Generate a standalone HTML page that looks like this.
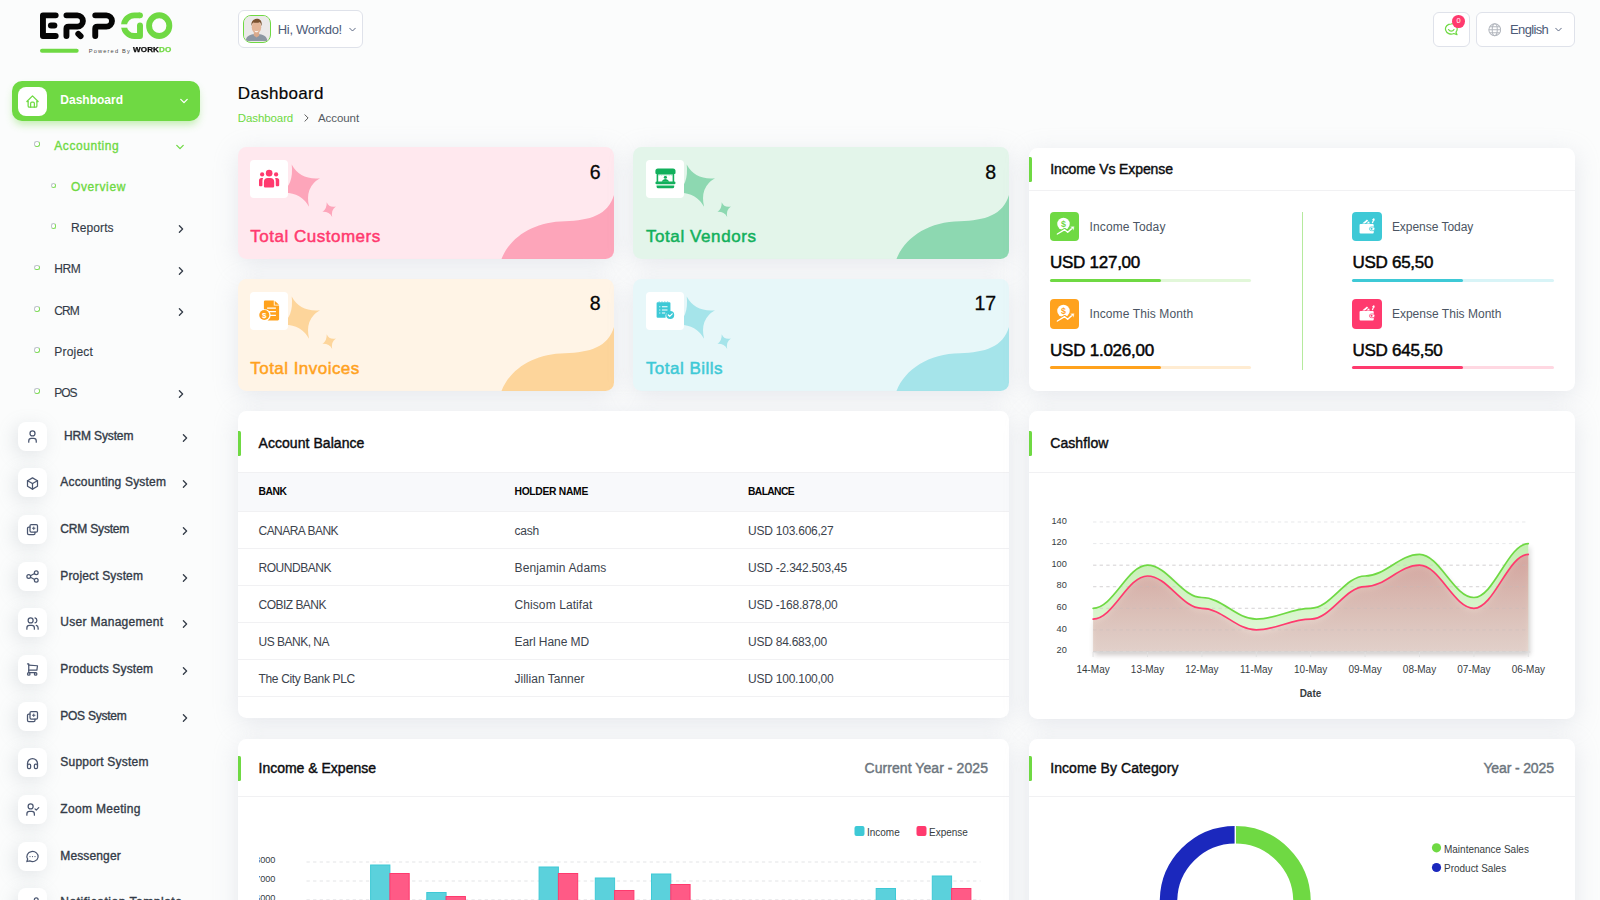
<!DOCTYPE html>
<html lang="en">
<head>
<meta charset="utf-8">
<title>Dashboard</title>
<style>
*{box-sizing:border-box;margin:0;padding:0}
html,body{width:1600px;height:900px;overflow:hidden}
body{font-family:"Liberation Sans",sans-serif;color:#293240;background:#fbfcfc;position:relative;font-size:12px}
.abs{position:absolute}
.t{position:absolute;white-space:nowrap}
svg{display:block}
.nav-main{position:absolute;left:12px;top:81px;width:188px;height:40px;background:#6fd943;border-radius:10px;box-shadow:0 5px 8px -2px rgba(111,217,67,.45)}
.ibox{position:absolute;left:18px;width:29px;height:29px;background:#fff;border-radius:8px;box-shadow:-3px 4px 18px rgba(136,147,160,.22)}
.ibox svg{position:absolute;left:7px;top:7.4px;width:15px;height:15px;stroke:#4a5670;fill:none;stroke-width:2;stroke-linecap:round;stroke-linejoin:round}
.chev{position:absolute;fill:none;stroke:#333b47;stroke-width:1.6;stroke-linecap:round;stroke-linejoin:round}
.dot{position:absolute;width:5.4px;height:5.4px;border-radius:50%;border:1.1px solid #bfc4cc;border-right-color:#7fdc58;border-bottom-color:#7fdc58;background:#fff;margin:.3px}
.hbtn{position:absolute;background:#fff;border:1.2px solid #dfe2ea;border-radius:6px}
.card{position:absolute;background:#fff;border-radius:8.5px;box-shadow:0 5px 25px rgba(182,186,203,.3)}
.card .bar{position:absolute;left:0;width:3px;height:24.5px;background:#6fd943;border-radius:0 1.5px 1.5px 0}
.card .hr{position:absolute;left:0;right:0;height:1px;background:#f1f1f3}
.stat{position:absolute;width:376px;height:111.8px;border-radius:8.5px;overflow:hidden;box-shadow:0 5px 25px rgba(182,186,203,.3)}
.stat .ic{position:absolute;left:12.5px;top:12.5px;width:38px;height:38px;background:#fff;border-radius:4px;z-index:2}
.stat svg.deco{position:absolute;left:0;top:0;width:376px;height:112px}
</style>
</head>
<body>
<!-- sidebar -->
<svg class="abs" style="left:0;top:0" width="220" height="60" viewBox="0 0 220 60" fill="none" stroke-linecap="round" stroke-linejoin="round">
<g stroke="#050505" stroke-width="5.900">
<path d="M55.700 15.330H42.950V36H55.700"/><path d="M51 25.470H54.300" stroke-width="6.100"/>
<path d="M66.450 15.360H77.230A5.650 5.650 0 0 1 77.230 26.670H68.600Q66.450 26.670 66.450 28.800V35.950"/><path d="M78.300 33.800L80.600 36.100"/>
<path d="M95.250 15.360H106.300A5.650 5.650 0 0 1 106.300 26.670H97.400Q95.250 26.670 95.250 28.800V35.950"/>
</g>
<g stroke="#6fd943" stroke-width="5.900" stroke-linecap="butt">
<path d="M140 15.360H134.350A10.350 10.350 0 0 0 124 25.650"/>
<path d="M124 25.650A10.350 10.350 0 0 0 134.350 36H140V25.350"/>
<ellipse cx="159.200" cy="25.650" rx="10.130" ry="10.350"/>
<path d="M42 50.800H76.670" stroke-width="4" stroke-linecap="round"/>
</g>
<rect x="120" y="24.300" width="9" height="3.400" fill="#fbfcfc"/><circle cx="140" cy="15.360" r="2.950" fill="#6fd943"/><circle cx="140" cy="25.350" r="2.950" fill="#6fd943"/>
</svg>
<div class="t" style="left:88.8px;top:46.9px;font-size:5.7px;line-height:8px;color:#4a4a4a;letter-spacing:1.14px;">Powered By</div>
<div class="t" style="left:133.300px;top:45.600px;font-size:7.100px;font-weight:700;letter-spacing:.1px;color:#0a0a0a;line-height:9px;transform:scaleX(1.14);transform-origin:left;-webkit-text-stroke:.25px">WORK<span style="color:#6fd943">DO</span></div>
<div class="nav-main"><div class="ibox" style="left:6px;top:5.500px;box-shadow:none"><svg viewBox="0 0 24 24" style="stroke:#6fd943"><path d="M5 12H3l9-9 9 9h-2"/><path d="M5 12v7a2 2 0 0 0 2 2h10a2 2 0 0 0 2-2v-7"/><path d="M9 21v-6a2 2 0 0 1 2-2h2a2 2 0 0 1 2 2v6"/></svg></div><div class="t" style="left:48.3px;top:12px;font-size:12px;line-height:14px;color:#fff;font-weight:700;letter-spacing:0.00px;">Dashboard</div><svg class="chev" style="left:168px;top:16.5px;width:8px;height:6.0px;stroke:#fff;stroke-width:1.6" viewBox="0 0 10 6"><path d="M1 1l4 4 4-4"/></svg></div>
<div class="dot" style="left:34px;top:141px"></div>
<div class="t" style="left:54.3px;top:139px;font-size:12px;line-height:14px;color:#6fd943;-webkit-text-stroke:0.35px #6fd943;letter-spacing:0.56px;">Accounting</div>
<svg class="chev" style="left:175.5px;top:143.5px;width:8px;height:6.0px;stroke:#6fd943;stroke-width:1.6" viewBox="0 0 10 6"><path d="M1 1l4 4 4-4"/></svg>
<div class="dot" style="left:50.5px;top:182.5px"></div>
<div class="t" style="left:71px;top:179.7px;font-size:12px;line-height:14px;color:#6fd943;-webkit-text-stroke:0.35px #6fd943;letter-spacing:0.62px;">Overview</div>
<div class="dot" style="left:50.5px;top:223px"></div>
<div class="t" style="left:71px;top:220.7px;font-size:12px;line-height:14px;color:#333b47;-webkit-text-stroke:0.13px #333b47;letter-spacing:0.10px;">Reports</div>
<svg class="chev" style="left:178px;top:225px;width:6px;height:8px;stroke:#333b47" viewBox="0 0 6 10"><path d="M1 1l4 4-4 4"/></svg>
<div class="dot" style="left:34px;top:264.5px"></div>
<div class="t" style="left:54.3px;top:262.3px;font-size:12px;line-height:14px;color:#333b47;-webkit-text-stroke:0.13px #333b47;letter-spacing:-0.44px;">HRM</div>
<svg class="chev" style="left:178px;top:266.5px;width:6px;height:8px;stroke:#333b47" viewBox="0 0 6 10"><path d="M1 1l4 4-4 4"/></svg>
<div class="dot" style="left:34px;top:306px"></div>
<div class="t" style="left:54.3px;top:304px;font-size:12px;line-height:14px;color:#333b47;-webkit-text-stroke:0.13px #333b47;letter-spacing:-0.88px;">CRM</div>
<svg class="chev" style="left:178px;top:308px;width:6px;height:8px;stroke:#333b47" viewBox="0 0 6 10"><path d="M1 1l4 4-4 4"/></svg>
<div class="dot" style="left:34px;top:347px"></div>
<div class="t" style="left:54.3px;top:344.7px;font-size:12px;line-height:14px;color:#333b47;-webkit-text-stroke:0.13px #333b47;letter-spacing:0.19px;">Project</div>
<div class="dot" style="left:34px;top:388px"></div>
<div class="t" style="left:54.3px;top:385.7px;font-size:12px;line-height:14px;color:#333b47;-webkit-text-stroke:0.13px #333b47;letter-spacing:-1.11px;">POS</div>
<svg class="chev" style="left:178px;top:390px;width:6px;height:8px;stroke:#333b47" viewBox="0 0 6 10"><path d="M1 1l4 4-4 4"/></svg>
<div class="ibox" style="top:421.7px"><svg viewBox="0 0 24 24"><circle cx="12" cy="7" r="4"/><path d="M6 21v-2a4 4 0 0 1 4-4h4a4 4 0 0 1 4 4v2"/></svg></div>
<div class="t" style="left:63.9px;top:428.6px;font-size:12px;line-height:14px;color:#333b47;-webkit-text-stroke:0.35px #333b47;letter-spacing:-0.13px;">HRM System</div>
<svg class="chev" style="left:182px;top:433.7px;width:6px;height:8px;stroke:#333b47" viewBox="0 0 6 10"><path d="M1 1l4 4-4 4"/></svg>
<div class="ibox" style="top:468.4px"><svg viewBox="0 0 24 24"><path d="M12 3l8 4.500v9L12 21l-8-4.500v-9L12 3"/><path d="M12 12l8-4.500"/><path d="M12 12v9"/><path d="M12 12L4 7.500"/></svg></div>
<div class="t" style="left:60.3px;top:475.3px;font-size:12px;line-height:14px;color:#333b47;-webkit-text-stroke:0.35px #333b47;letter-spacing:0.18px;">Accounting System</div>
<svg class="chev" style="left:182px;top:480.4px;width:6px;height:8px;stroke:#333b47" viewBox="0 0 6 10"><path d="M1 1l4 4-4 4"/></svg>
<div class="ibox" style="top:515.0px"><svg viewBox="0 0 24 24"><rect x="8" y="4" width="12" height="12" rx="2"/><path d="M16 16v2a2 2 0 0 1-2 2H6a2 2 0 0 1-2-2v-8a2 2 0 0 1 2-2h2"/><path d="M14 8v4M12 10h4" stroke-width="1.600"/></svg></div>
<div class="t" style="left:60.3px;top:521.9px;font-size:12px;line-height:14px;color:#333b47;-webkit-text-stroke:0.35px #333b47;letter-spacing:-0.18px;">CRM System</div>
<svg class="chev" style="left:182px;top:527.0px;width:6px;height:8px;stroke:#333b47" viewBox="0 0 6 10"><path d="M1 1l4 4-4 4"/></svg>
<div class="ibox" style="top:561.7px"><svg viewBox="0 0 24 24"><circle cx="6" cy="12" r="3"/><circle cx="18" cy="6" r="3"/><circle cx="18" cy="18" r="3"/><path d="M8.700 10.700l6.600-3.400"/><path d="M8.700 13.300l6.600 3.400"/></svg></div>
<div class="t" style="left:60.3px;top:568.6px;font-size:12px;line-height:14px;color:#333b47;-webkit-text-stroke:0.35px #333b47;letter-spacing:0.15px;">Project System</div>
<svg class="chev" style="left:182px;top:573.7px;width:6px;height:8px;stroke:#333b47" viewBox="0 0 6 10"><path d="M1 1l4 4-4 4"/></svg>
<div class="ibox" style="top:608.4px"><svg viewBox="0 0 24 24"><circle cx="9" cy="7" r="4"/><path d="M3 21v-2a4 4 0 0 1 4-4h4a4 4 0 0 1 4 4v2"/><path d="M16 3.130a4 4 0 0 1 0 7.750"/><path d="M21 21v-2a4 4 0 0 0-3-3.850"/></svg></div>
<div class="t" style="left:60.3px;top:615.3px;font-size:12px;line-height:14px;color:#333b47;-webkit-text-stroke:0.35px #333b47;letter-spacing:0.29px;">User Management</div>
<svg class="chev" style="left:182px;top:620.4px;width:6px;height:8px;stroke:#333b47" viewBox="0 0 6 10"><path d="M1 1l4 4-4 4"/></svg>
<div class="ibox" style="top:655.0px"><svg viewBox="0 0 24 24"><circle cx="6" cy="19" r="2"/><circle cx="17" cy="19" r="2"/><path d="M17 17H6V3H4"/><path d="M6 5l14 1-1 7H6"/></svg></div>
<div class="t" style="left:60.3px;top:661.9px;font-size:12px;line-height:14px;color:#333b47;-webkit-text-stroke:0.35px #333b47;letter-spacing:0.15px;">Products System</div>
<svg class="chev" style="left:182px;top:667.0px;width:6px;height:8px;stroke:#333b47" viewBox="0 0 6 10"><path d="M1 1l4 4-4 4"/></svg>
<div class="ibox" style="top:701.7px"><svg viewBox="0 0 24 24"><rect x="8" y="4" width="12" height="12" rx="2"/><path d="M16 16v2a2 2 0 0 1-2 2H6a2 2 0 0 1-2-2v-8a2 2 0 0 1 2-2h2"/><path d="M14 8v4M12 10h4" stroke-width="1.600"/></svg></div>
<div class="t" style="left:60.3px;top:708.6px;font-size:12px;line-height:14px;color:#333b47;-webkit-text-stroke:0.35px #333b47;letter-spacing:-0.26px;">POS System</div>
<svg class="chev" style="left:182px;top:713.7px;width:6px;height:8px;stroke:#333b47" viewBox="0 0 6 10"><path d="M1 1l4 4-4 4"/></svg>
<div class="ibox" style="top:748.4px"><svg viewBox="0 0 24 24"><rect x="4" y="13" width="5" height="7" rx="2"/><rect x="15" y="13" width="5" height="7" rx="2"/><path d="M4 15v-3a8 8 0 0 1 16 0v3"/></svg></div>
<div class="t" style="left:60.3px;top:755.3px;font-size:12px;line-height:14px;color:#333b47;-webkit-text-stroke:0.35px #333b47;letter-spacing:0.21px;">Support System</div>
<div class="ibox" style="top:795.1px"><svg viewBox="0 0 24 24"><circle cx="9" cy="7" r="4"/><path d="M3 21v-2a4 4 0 0 1 4-4h4a4 4 0 0 1 4 4v2"/><path d="M16 11l2 2 4-4"/></svg></div>
<div class="t" style="left:60.3px;top:802.0px;font-size:12px;line-height:14px;color:#333b47;-webkit-text-stroke:0.35px #333b47;letter-spacing:0.32px;">Zoom Meeting</div>
<div class="ibox" style="top:841.7px"><svg viewBox="0 0 24 24"><path d="M3 20l1.300-3.900A9 8 0 1 1 7.700 19L3 20"/><path d="M12 12v.01M8 12v.01M16 12v.01"/></svg></div>
<div class="t" style="left:60.3px;top:848.6px;font-size:12px;line-height:14px;color:#333b47;-webkit-text-stroke:0.35px #333b47;letter-spacing:0.13px;">Messenger</div>
<div class="ibox" style="top:888.4px"><svg viewBox="0 0 24 24"><circle cx="6" cy="12" r="3"/><circle cx="18" cy="6" r="3"/><circle cx="18" cy="18" r="3"/><path d="M8.700 10.700l6.600-3.400"/><path d="M8.700 13.300l6.600 3.400"/></svg></div>
<div class="t" style="left:60.3px;top:895.3px;font-size:12px;line-height:14px;color:#333b47;-webkit-text-stroke:0.35px #333b47;letter-spacing:0.52px;">Notification Template</div>
<!-- header -->
<div class="hbtn" style="left:237.500px;top:10.300px;width:125.500px;height:37.600px">
<div class="abs" style="left:4.600px;top:3.800px;width:28px;height:28px;border:1.900px solid #6fd943;border-radius:8px;overflow:hidden;background:#ebe9e9">
<svg viewBox="0 0 28 28" width="25" height="25"><rect width="28" height="28" fill="#ebe9e9"/><path d="M2 28c0-5 4-6.500 8-7.500h8c4 1 8 2.500 8 7.500z" fill="#8d97a3"/><path d="M11 17h6v5l-3 2-3-2z" fill="#d9a98c"/><ellipse cx="14" cy="12.500" rx="5.300" ry="6.800" fill="#e2b598"/><path d="M8.300 11.500c-.6-6 2.500-8.300 6-8.300 3.600 0 6.300 2.500 5.400 8.300-.4-2.500-1.200-4-2-4.600-2.300.9-5.400.8-7.300.3-1 .9-1.800 2.300-2.100 4.300z" fill="#7a5230"/><path d="M11.600 16.300c1.500 1 3.300 1 4.800 0-.6 1.300-1.400 1.900-2.400 1.900s-1.800-.6-2.400-1.900z" fill="#fff"/></svg></div><div class="t" style="left:39.3px;top:11px;font-size:13px;line-height:16px;color:#4d5b78;letter-spacing:-0.33px;">Hi, Workdo!</div><svg class="chev" style="left:110.2px;top:15.6px;width:7px;height:5.25px;stroke:#4d5b78;stroke-width:1.3" viewBox="0 0 10 6"><path d="M1 1l4 4 4-4"/></svg></div>
<div class="hbtn" style="left:1432.700px;top:11.600px;width:37px;height:35px">
<svg class="abs" style="left:10px;top:9.800px" width="14.500" height="14.500" viewBox="0 0 24 24" fill="none" stroke="#6fd943" stroke-width="2" stroke-linecap="round" stroke-linejoin="round"><path d="M12 3a9.500 8.500 0 1 0 4.200 16.100L21.500 21l-1.700-4.200A8.500 8.500 0 0 0 12 3z"/><path d="M7.500 12.500c1 1.800 2.700 2.700 4.500 2.700s3.500-.9 4.500-2.700"/></svg>
<div class="abs" style="left:18.600px;top:2.600px;width:12.800px;height:12.800px;border-radius:50%;background:#ff3a6e;color:#fff;font-size:7.500px;line-height:12.800px;text-align:center">0</div></div>
<div class="hbtn" style="left:1476.200px;top:11.600px;width:98.500px;height:35px">
<svg class="abs" style="left:10.600px;top:10.500px" width="13.500" height="13.500" viewBox="0 0 24 24" fill="none" stroke="#b4b8bf" stroke-width="1.800"><circle cx="12" cy="12" r="10.500"/><ellipse cx="12" cy="12" rx="4.500" ry="10.500"/><path d="M1.500 12h21M3.200 6.500h17.600M3.200 17.500h17.600"/></svg><div class="t" style="left:32.8px;top:9.5px;font-size:13px;line-height:16px;color:#4d5b78;letter-spacing:-0.63px;">English</div><svg class="chev" style="left:77.8px;top:14.5px;width:7px;height:5.25px;stroke:#4d5b78;stroke-width:1.3" viewBox="0 0 10 6"><path d="M1 1l4 4 4-4"/></svg></div>
<!-- page title -->
<div class="t" style="left:237.8px;top:84px;font-size:17px;line-height:20px;color:#060606;-webkit-text-stroke:0.19px #060606;letter-spacing:0.31px;">Dashboard</div>
<div class="t" style="left:237.8px;top:110.8px;font-size:11.5px;line-height:14px;color:#6fd943;letter-spacing:-0.10px;">Dashboard</div>
<svg class="chev" style="left:303.500px;top:114px;width:5px;height:8px;stroke:#555;stroke-width:1.200" viewBox="0 0 6 10"><path d="M1 1l4 4-4 4"/></svg>
<div class="t" style="left:318px;top:110.8px;font-size:11.5px;line-height:14px;color:#555b62;letter-spacing:-0.08px;">Account</div>
<!-- stat cards -->
<div class="stat" style="left:237.5px;top:147.2px;background:#ffe8ee"><svg class="deco" viewBox="0 0 376 112"><path d="M263.500 112C272 90 296 74.500 327 74.200C352 73.500 370 68 376 48V112z" fill="#fda5ba"/><path d="M53.700 17.500Q62 33 82 31.200Q66.500 40 71.100 59.800Q62 44 42.800 46Q56 38 53.700 17.500z" fill="#fda5ba"/><path d="M88.700 55.300Q91.200 61 97.900 59.500Q92.800 63 94.200 69.900Q91 64.500 84.400 64.900Q89 62 88.700 55.300z" fill="#fda5ba"/></svg><div class="ic"><svg viewBox="0 0 38 38" width="38" height="38" fill="#ff3a6e"><circle cx="19.150" cy="13.150" r="3.300"/><path d="M13.900 26.300v-4.400a4 4 0 0 1 4-4h2.300a4 4 0 0 1 4 4v4.400a1.200 1.200 0 0 1-1.200 1.200H15.100a1.200 1.200 0 0 1-1.200-1.200z"/><circle cx="12.150" cy="14.400" r="2.100"/><circle cx="26.100" cy="14.400" r="2.100"/><path d="M9 25.200V20.600a2.500 2.500 0 0 1 2.500-2.500h1.600c-.45.900-.65 1.900-.65 3V25.200a1 1 0 0 1-1 1H10a1 1 0 0 1-1-1z"/><path d="M29.200 25.200V20.600a2.500 2.500 0 0 0-2.500-2.500h-1.600c.45.900.65 1.900.65 3V25.200a1 1 0 0 0 1 1h1.450a1 1 0 0 0 1-1z"/></svg></div><div class="t" style="right:13.1px;top:12.4px;font-size:19.5px;line-height:24px;color:#060606;letter-spacing:-.1px;-webkit-text-stroke:.3px #060606;">6</div><div class="t" style="left:12.8px;top:80px;font-size:17px;line-height:20px;color:#ff3a6e;-webkit-text-stroke:0.49px #ff3a6e;letter-spacing:0.51px;">Total Customers</div></div>
<div class="stat" style="left:633.1px;top:147.2px;background:#e3f5ea"><svg class="deco" viewBox="0 0 376 112"><path d="M263.500 112C272 90 296 74.500 327 74.200C352 73.500 370 68 376 48V112z" fill="#8dd8b1"/><path d="M53.700 17.500Q62 33 82 31.200Q66.500 40 71.100 59.800Q62 44 42.800 46Q56 38 53.700 17.500z" fill="#8dd8b1"/><path d="M88.700 55.300Q91.200 61 97.900 59.500Q92.800 63 94.200 69.900Q91 64.500 84.400 64.900Q89 62 88.700 55.300z" fill="#8dd8b1"/></svg><div class="ic"><svg viewBox="0 0 38 38" width="38" height="38" fill="#12b05c"><path d="M11.900 8.400h15.100a2.500 2.500 0 0 1 2.500 2.500v2.100a1 1 0 0 1-1 1H10.400a1 1 0 0 1-1-1v-2.100a2.500 2.500 0 0 1 2.500-2.500z"/><rect x="10.600" y="13.500" width="1.600" height="8.500"/><rect x="26.600" y="13.500" width="1.600" height="8.500"/><path d="M12 13.900h14.800v1.100c-.8.500-1.600.5-2.400 0-.8.500-1.700.5-2.500 0-.8.500-1.700.5-2.500 0-.8.500-1.700.5-2.500 0-.8.500-1.700.5-2.500 0-.8.500-1.600.5-2.400 0z" opacity=".55"/><circle cx="19.400" cy="17.200" r="1.550"/><path d="M15.700 21.700c.9-1.700 2-2.700 3.700-2.700s2.800 1 3.700 2.700z"/><rect x="9.400" y="21.400" width="20.100" height="2.950" rx="1.450"/><path d="M10.600 25.400h17.600v1.300a1.650 1.650 0 0 1-1.650 1.650H12.250a1.650 1.650 0 0 1-1.650-1.650z"/></svg></div><div class="t" style="right:13.1px;top:12.4px;font-size:19.5px;line-height:24px;color:#060606;letter-spacing:-.1px;-webkit-text-stroke:.3px #060606;">8</div><div class="t" style="left:12.8px;top:80px;font-size:17px;line-height:20px;color:#12b05c;-webkit-text-stroke:0.49px #12b05c;letter-spacing:0.59px;">Total Vendors</div></div>
<div class="stat" style="left:237.5px;top:279px;background:#fff4e6"><svg class="deco" viewBox="0 0 376 112"><path d="M263.500 112C272 90 296 74.500 327 74.200C352 73.500 370 68 376 48V112z" fill="#fdd59b"/><path d="M53.700 17.500Q62 33 82 31.200Q66.500 40 71.100 59.800Q62 44 42.800 46Q56 38 53.700 17.500z" fill="#fdd59b"/><path d="M88.700 55.300Q91.200 61 97.900 59.500Q92.800 63 94.200 69.900Q91 64.500 84.400 64.900Q89 62 88.700 55.300z" fill="#fdd59b"/></svg><div class="ic"><svg viewBox="0 0 38 38" width="38" height="38" fill="#ffa21d"><path d="M15.200 8.500h8.600v5h5.300v13.600a1.300 1.300 0 0 1-1.300 1.300H17.500a6 6 0 0 0-3.600-11.200V9.800a1.300 1.300 0 0 1 1.300-1.300z"/><path d="M24.700 8.700l4.300 4h-4.300z"/><path d="M17.100 16.100h8.800M19 19.600h6.900M19.800 23.300h6.100" stroke="#fff" stroke-width="1.200" fill="none"/><circle cx="14.300" cy="23" r="5.050"/><text x="14.300" y="26" font-size="8" font-weight="700" text-anchor="middle" fill="#fff" font-family="Liberation Sans">$</text></svg></div><div class="t" style="right:13.1px;top:12.4px;font-size:19.5px;line-height:24px;color:#060606;letter-spacing:-.1px;-webkit-text-stroke:.3px #060606;">8</div><div class="t" style="left:12.8px;top:80px;font-size:17px;line-height:20px;color:#ffa21d;-webkit-text-stroke:0.49px #ffa21d;letter-spacing:0.46px;">Total Invoices</div></div>
<div class="stat" style="left:633.1px;top:279px;background:#e7f7f9"><svg class="deco" viewBox="0 0 376 112"><path d="M263.500 112C272 90 296 74.500 327 74.200C352 73.500 370 68 376 48V112z" fill="#a5e4ea"/><path d="M53.700 17.500Q62 33 82 31.200Q66.500 40 71.100 59.800Q62 44 42.800 46Q56 38 53.700 17.500z" fill="#a5e4ea"/><path d="M88.700 55.300Q91.200 61 97.900 59.500Q92.800 63 94.200 69.900Q91 64.500 84.400 64.900Q89 62 88.700 55.300z" fill="#a5e4ea"/></svg><div class="ic"><svg viewBox="0 0 38 38" width="38" height="38" fill="#3ec9d6"><path d="M11.600 10.300h11.850a1 1 0 0 1 1 1v8.200a4.900 4.900 0 0 0-4.900 6.200H11.600a1 1 0 0 1-1-1V11.300a1 1 0 0 1 1-1z"/><path d="M12.300 10.300a.9.900 0 0 1 1.800 0zM15.100 10.300a.9.900 0 0 1 1.800 0zM17.900 10.300a.9.900 0 0 1 1.800 0zM20.700 10.300a.9.900 0 0 1 1.800 0z"/><path d="M13.300 14.750h1M15.900 14.750h5.600M13.300 17.950h1M15.900 17.950h5.600M13.300 21h1M15.900 21h3.300" stroke="#fff" stroke-width="1.100"/><circle cx="24.200" cy="23" r="4"/><path d="M22.300 23l1.400 1.400 2.500-2.600" stroke="#fff" stroke-width="1.200" fill="none" stroke-linecap="round" stroke-linejoin="round"/></svg></div><div class="t" style="right:13.1px;top:12.4px;font-size:19.5px;line-height:24px;color:#060606;letter-spacing:-.1px;-webkit-text-stroke:.3px #060606;">17</div><div class="t" style="left:12.8px;top:80px;font-size:17px;line-height:20px;color:#3ec9d6;-webkit-text-stroke:0.49px #3ec9d6;letter-spacing:0.48px;">Total Bills</div></div>
<!-- income vs expense -->
<div class="card" style="left:1029.200px;top:147.500px;width:545.800px;height:243.500px"><div class="bar" style="top:9.700px"></div><div class="t" style="left:21px;top:13.2px;font-size:14px;line-height:16px;color:#0c0d10;-webkit-text-stroke:0.41px #0c0d10;letter-spacing:-0.11px;">Income Vs Expense</div><div class="hr" style="top:42.300px"></div><div class="abs" style="left:272.600px;top:64.500px;width:1px;height:157.500px;background:#b5ea9d"></div><div class="abs" style="left:20.8px;top:64.4px;width:29.500px;height:29.500px;border-radius:4px;background:#6fd943"><svg viewBox="0 0 30 30" width="29.500" height="29.500" fill="#fff"><circle cx="13.700" cy="12.100" r="6.300"/><text x="13.700" y="15.300" font-size="9" font-weight="700" text-anchor="middle" fill="#6fd943" font-family="Liberation Sans">$</text><path d="M7.500 22.400L14.900 18l3.100 2.600 4.600-4.200" stroke="#6fd943" stroke-width="3.600" fill="none" stroke-linecap="round" stroke-linejoin="round"/><path d="M7.500 22.400L14.900 18l3.100 2.600 4.600-4.200" stroke="#fff" stroke-width="1.400" fill="none" stroke-linecap="round" stroke-linejoin="round"/><path d="M20.400 14.700l4.300-.3-.4 4.400z" stroke="#6fd943" stroke-width=".5"/></svg></div><div class="t" style="left:60.3px;top:72.10000000000001px;font-size:12px;line-height:14px;color:#4b5563;letter-spacing:0.13px;">Income Today</div><div class="t" style="left:20.8px;top:105.9px;font-size:17px;line-height:20px;color:#060606;-webkit-text-stroke:0.49px #060606;letter-spacing:-0.26px;">USD 127,00</div><div class="abs" style="left:20.8px;top:131.4px;width:201.500px;height:3px;border-radius:2px;background:#e2f7d9"><div style="width:55%;height:3px;border-radius:2px;background:#6fd943"></div></div><div class="abs" style="left:323.2px;top:64.4px;width:29.500px;height:29.500px;border-radius:4px;background:#3ec9d6"><svg viewBox="0 0 30 30" width="29.500" height="29.500" fill="#fff"><rect x="7.700" y="12.300" width="14.400" height="9.600" rx="1"/><rect x="17.700" y="15.200" width="5.600" height="3.800" rx="1.900" stroke="#3ec9d6" stroke-width=".7"/><circle cx="19.900" cy="17.100" r="1.050" fill="#3ec9d6"/><path d="M10.400 11.700L15.200 7.500l1.300 1.300-3.300 2.900zM14.600 11.700l2.700-2.200.8 2.200z"/><path d="M20.700 11.300L22 7.800" stroke="#fff" stroke-width="1.300" fill="none"/><path d="M20.200 8l2.200-1.800 1 2.500z"/></svg></div><div class="t" style="left:362.7px;top:72.10000000000001px;font-size:12px;line-height:14px;color:#4b5563;letter-spacing:-0.03px;">Expense Today</div><div class="t" style="left:323.2px;top:105.9px;font-size:17px;line-height:20px;color:#060606;-webkit-text-stroke:0.49px #060606;letter-spacing:-0.26px;">USD 65,50</div><div class="abs" style="left:323.2px;top:131.4px;width:201.500px;height:3px;border-radius:2px;background:#d8f4f7"><div style="width:55%;height:3px;border-radius:2px;background:#3ec9d6"></div></div><div class="abs" style="left:20.8px;top:151.6px;width:29.500px;height:29.500px;border-radius:4px;background:#ffa21d"><svg viewBox="0 0 30 30" width="29.500" height="29.500" fill="#fff"><circle cx="13.700" cy="12.100" r="6.300"/><text x="13.700" y="15.300" font-size="9" font-weight="700" text-anchor="middle" fill="#ffa21d" font-family="Liberation Sans">$</text><path d="M7.500 22.400L14.900 18l3.100 2.600 4.600-4.200" stroke="#ffa21d" stroke-width="3.600" fill="none" stroke-linecap="round" stroke-linejoin="round"/><path d="M7.500 22.400L14.900 18l3.100 2.600 4.600-4.200" stroke="#fff" stroke-width="1.400" fill="none" stroke-linecap="round" stroke-linejoin="round"/><path d="M20.400 14.700l4.300-.3-.4 4.400z" stroke="#ffa21d" stroke-width=".5"/></svg></div><div class="t" style="left:60.3px;top:159.29999999999998px;font-size:12px;line-height:14px;color:#4b5563;letter-spacing:0.11px;">Income This Month</div><div class="t" style="left:20.8px;top:193.1px;font-size:17px;line-height:20px;color:#060606;-webkit-text-stroke:0.49px #060606;letter-spacing:-0.23px;">USD 1.026,00</div><div class="abs" style="left:20.8px;top:218.6px;width:201.500px;height:3px;border-radius:2px;background:#ffecd2"><div style="width:55%;height:3px;border-radius:2px;background:#ffa21d"></div></div><div class="abs" style="left:323.2px;top:151.6px;width:29.500px;height:29.500px;border-radius:4px;background:#ff3a6e"><svg viewBox="0 0 30 30" width="29.500" height="29.500" fill="#fff"><rect x="7.700" y="12.300" width="14.400" height="9.600" rx="1"/><rect x="17.700" y="15.200" width="5.600" height="3.800" rx="1.900" stroke="#ff3a6e" stroke-width=".7"/><circle cx="19.900" cy="17.100" r="1.050" fill="#ff3a6e"/><path d="M10.400 11.700L15.200 7.500l1.300 1.300-3.300 2.900zM14.600 11.700l2.700-2.200.8 2.200z"/><path d="M20.700 11.300L22 7.800" stroke="#fff" stroke-width="1.300" fill="none"/><path d="M20.200 8l2.200-1.800 1 2.500z"/></svg></div><div class="t" style="left:362.7px;top:159.29999999999998px;font-size:12px;line-height:14px;color:#4b5563;letter-spacing:0.02px;">Expense This Month</div><div class="t" style="left:323.2px;top:193.1px;font-size:17px;line-height:20px;color:#060606;-webkit-text-stroke:0.49px #060606;letter-spacing:-0.24px;">USD 645,50</div><div class="abs" style="left:323.2px;top:218.6px;width:201.500px;height:3px;border-radius:2px;background:#ffd8e2"><div style="width:55%;height:3px;border-radius:2px;background:#ff3a6e"></div></div></div>
<!-- account balance -->
<div class="card" style="left:237.500px;top:411px;width:771.700px;height:306.500px"><div class="bar" style="top:20px"></div><div class="t" style="left:21px;top:23.5px;font-size:14px;line-height:16px;color:#0c0d10;-webkit-text-stroke:0.41px #0c0d10;letter-spacing:0.06px;">Account Balance</div><div class="hr" style="top:60.500px"></div><div class="abs" style="left:0;top:61.500px;width:100%;height:39px;background:#f8f9fb;border-bottom:1px solid #f1f1f3"></div><div class="t" style="left:21px;top:75px;font-size:10.3px;line-height:12px;color:#060606;font-weight:700;letter-spacing:-0.44px;">BANK</div><div class="t" style="left:277px;top:75px;font-size:10.3px;line-height:12px;color:#060606;font-weight:700;letter-spacing:-0.29px;">HOLDER NAME</div><div class="t" style="left:510.5px;top:75px;font-size:10.3px;line-height:12px;color:#060606;font-weight:700;letter-spacing:-0.62px;">BALANCE</div>
<div class="t" style="left:21px;top:113.1px;font-size:12px;line-height:14px;color:#3c434d;letter-spacing:-0.53px;">CANARA BANK</div>
<div class="t" style="left:277px;top:113.1px;font-size:12px;line-height:14px;color:#3c434d;letter-spacing:-0.21px;">cash</div>
<div class="t" style="left:510.5px;top:113.1px;font-size:12px;line-height:14px;color:#3c434d;letter-spacing:-0.23px;">USD 103.606,27</div>
<div class="hr" style="top:137.0px"></div>
<div class="t" style="left:21px;top:150.1px;font-size:12px;line-height:14px;color:#3c434d;letter-spacing:-0.46px;">ROUNDBANK</div>
<div class="t" style="left:277px;top:150.1px;font-size:12px;line-height:14px;color:#3c434d;letter-spacing:0.14px;">Benjamin Adams</div>
<div class="t" style="left:510.5px;top:150.1px;font-size:12px;line-height:14px;color:#3c434d;letter-spacing:-0.22px;">USD -2.342.503,45</div>
<div class="hr" style="top:174.0px"></div>
<div class="t" style="left:21px;top:187.1px;font-size:12px;line-height:14px;color:#3c434d;letter-spacing:-0.52px;">COBIZ BANK</div>
<div class="t" style="left:277px;top:187.1px;font-size:12px;line-height:14px;color:#3c434d;letter-spacing:0.09px;">Chisom Latifat</div>
<div class="t" style="left:510.5px;top:187.1px;font-size:12px;line-height:14px;color:#3c434d;letter-spacing:-0.22px;">USD -168.878,00</div>
<div class="hr" style="top:211.0px"></div>
<div class="t" style="left:21px;top:224.1px;font-size:12px;line-height:14px;color:#3c434d;letter-spacing:-0.50px;">US BANK, NA</div>
<div class="t" style="left:277px;top:224.1px;font-size:12px;line-height:14px;color:#3c434d;letter-spacing:-0.07px;">Earl Hane MD</div>
<div class="t" style="left:510.5px;top:224.1px;font-size:12px;line-height:14px;color:#3c434d;letter-spacing:-0.24px;">USD 84.683,00</div>
<div class="hr" style="top:248.0px"></div>
<div class="t" style="left:21px;top:261.1px;font-size:12px;line-height:14px;color:#3c434d;letter-spacing:-0.33px;">The City Bank PLC</div>
<div class="t" style="left:277px;top:261.1px;font-size:12px;line-height:14px;color:#3c434d;letter-spacing:0.01px;">Jillian Tanner</div>
<div class="t" style="left:510.5px;top:261.1px;font-size:12px;line-height:14px;color:#3c434d;letter-spacing:-0.23px;">USD 100.100,00</div>
<div class="hr" style="top:285.0px"></div>
</div>
<!-- cashflow -->
<div class="card" style="left:1029.2px;top:411.0px;width:545.800px;height:308px"><div class="bar" style="top:20px"></div><div class="t" style="left:21px;top:23.5px;font-size:14px;line-height:16px;color:#0c0d10;-webkit-text-stroke:0.41px #0c0d10;letter-spacing:0.09px;">Cashflow</div><div class="hr" style="top:60.800px"></div><svg class="abs" style="left:0;top:0" width="545.800" height="306.500" viewBox="0 0 545.8 306.5" font-family="Liberation Sans, sans-serif"><defs>
<linearGradient id="gG" x1="0" y1="0" x2="0" y2="1"><stop offset="0" stop-color="#6fd943" stop-opacity=".42"/><stop offset="1" stop-color="#6fd943" stop-opacity=".18"/></linearGradient>
<linearGradient id="gR" x1="0" y1="0" x2="0" y2="1"><stop offset="0" stop-color="#e37d97" stop-opacity=".6"/><stop offset="1" stop-color="#f1b6ca" stop-opacity=".42"/></linearGradient>
<filter id="sh" x="-5%" y="-10%" width="112%" height="125%"><feGaussianBlur stdDeviation="2.500"/></filter></defs>
<path d="M64.1 240.5H499.3" stroke="#e7e8ea" stroke-width="1" stroke-dasharray="3.300 3.300" fill="none"/><text x="37.800" y="242.3" font-size="9.200" text-anchor="end" fill="#373d3f">20</text>
<path d="M64.1 218.9H499.3" stroke="#e7e8ea" stroke-width="1" stroke-dasharray="3.300 3.300" fill="none"/><text x="37.800" y="220.7" font-size="9.200" text-anchor="end" fill="#373d3f">40</text>
<path d="M64.1 197.3H499.3" stroke="#e7e8ea" stroke-width="1" stroke-dasharray="3.300 3.300" fill="none"/><text x="37.800" y="199.1" font-size="9.200" text-anchor="end" fill="#373d3f">60</text>
<path d="M64.1 175.7H499.3" stroke="#e7e8ea" stroke-width="1" stroke-dasharray="3.300 3.300" fill="none"/><text x="37.800" y="177.5" font-size="9.200" text-anchor="end" fill="#373d3f">80</text>
<path d="M64.1 154.2H499.3" stroke="#e7e8ea" stroke-width="1" stroke-dasharray="3.300 3.300" fill="none"/><text x="37.800" y="156.0" font-size="9.200" text-anchor="end" fill="#373d3f">100</text>
<path d="M64.1 132.6H499.3" stroke="#e7e8ea" stroke-width="1" stroke-dasharray="3.300 3.300" fill="none"/><text x="37.800" y="134.4" font-size="9.200" text-anchor="end" fill="#373d3f">120</text>
<path d="M64.1 111.0H499.3" stroke="#e7e8ea" stroke-width="1" stroke-dasharray="3.300 3.300" fill="none"/><text x="37.800" y="112.8" font-size="9.200" text-anchor="end" fill="#373d3f">140</text>
<path d="M64.1 197.3C84.2 197.3 98.4 154.2 118.5 154.2C138.6 154.2 152.8 186.5 172.9 186.5C193.0 186.5 207.2 208.1 227.3 208.1C247.4 208.1 261.6 197.3 281.7 197.3C301.8 197.3 316.0 165.0 336.1 165.0C356.2 165.0 370.4 143.4 390.5 143.4C410.6 143.4 424.8 186.5 444.9 186.5C465.0 186.5 479.2 132.6 499.3 132.6L499.3 240.5L64.1 240.5z" fill="#000" opacity=".12" filter="url(#sh)" transform="translate(2.500 3.500)"/>
<path d="M64.1 197.3C84.2 197.3 98.4 154.2 118.5 154.2C138.6 154.2 152.8 186.5 172.9 186.5C193.0 186.5 207.2 208.1 227.3 208.1C247.4 208.1 261.6 197.3 281.7 197.3C301.8 197.3 316.0 165.0 336.1 165.0C356.2 165.0 370.4 143.4 390.5 143.4C410.6 143.4 424.8 186.5 444.9 186.5C465.0 186.5 479.2 132.6 499.3 132.6L499.3 240.5L64.1 240.5z" fill="#fff"/>
<path d="M64.1 197.3C84.2 197.3 98.4 154.2 118.5 154.2C138.6 154.2 152.8 186.5 172.9 186.5C193.0 186.5 207.2 208.1 227.3 208.1C247.4 208.1 261.6 197.3 281.7 197.3C301.8 197.3 316.0 165.0 336.1 165.0C356.2 165.0 370.4 143.4 390.5 143.4C410.6 143.4 424.8 186.5 444.9 186.5C465.0 186.5 479.2 132.6 499.3 132.6L499.3 240.5L64.1 240.5z" fill="url(#gG)"/>
<path d="M64.1 208.1C84.2 208.1 98.4 165.0 118.5 165.0C138.6 165.0 152.8 197.3 172.9 197.3C193.0 197.3 207.2 218.9 227.3 218.9C247.4 218.9 261.6 208.1 281.7 208.1C301.8 208.1 316.0 175.7 336.1 175.7C356.2 175.7 370.4 154.2 390.5 154.2C410.6 154.2 424.8 197.3 444.9 197.3C465.0 197.3 479.2 143.4 499.3 143.4L499.3 240.5L64.1 240.5z" fill="#5a2a22" opacity=".1" filter="url(#sh)" transform="translate(0 4)"/>
<path d="M64.1 208.1C84.2 208.1 98.4 165.0 118.5 165.0C138.6 165.0 152.8 197.3 172.9 197.3C193.0 197.3 207.2 218.9 227.3 218.9C247.4 218.9 261.6 208.1 281.7 208.1C301.8 208.1 316.0 175.7 336.1 175.7C356.2 175.7 370.4 154.2 390.5 154.2C410.6 154.2 424.8 197.3 444.9 197.3C465.0 197.3 479.2 143.4 499.3 143.4L499.3 240.5L64.1 240.5z" fill="url(#gR)"/>
<path d="M64.1 240.5H499.3" stroke="#c4bcbc" stroke-opacity=".42" stroke-width="1" stroke-dasharray="3.300 3.300" fill="none"/>
<path d="M64.1 218.9H499.3" stroke="#c4bcbc" stroke-opacity=".42" stroke-width="1" stroke-dasharray="3.300 3.300" fill="none"/>
<path d="M64.1 197.3H499.3" stroke="#c4bcbc" stroke-opacity=".42" stroke-width="1" stroke-dasharray="3.300 3.300" fill="none"/>
<path d="M64.1 175.7H499.3" stroke="#c4bcbc" stroke-opacity=".42" stroke-width="1" stroke-dasharray="3.300 3.300" fill="none"/>
<path d="M64.1 154.2H499.3" stroke="#c4bcbc" stroke-opacity=".42" stroke-width="1" stroke-dasharray="3.300 3.300" fill="none"/>
<path d="M64.1 197.3C84.2 197.3 98.4 154.2 118.5 154.2C138.6 154.2 152.8 186.5 172.9 186.5C193.0 186.5 207.2 208.1 227.3 208.1C247.4 208.1 261.6 197.3 281.7 197.3C301.8 197.3 316.0 165.0 336.1 165.0C356.2 165.0 370.4 143.4 390.5 143.4C410.6 143.4 424.8 186.5 444.9 186.5C465.0 186.5 479.2 132.6 499.3 132.6" fill="none" stroke="#6fd943" stroke-width="1.700" stroke-linecap="round"/>
<path d="M64.1 208.1C84.2 208.1 98.4 165.0 118.5 165.0C138.6 165.0 152.8 197.3 172.9 197.3C193.0 197.3 207.2 218.9 227.3 218.9C247.4 218.9 261.6 208.1 281.7 208.1C301.8 208.1 316.0 175.7 336.1 175.7C356.2 175.7 370.4 154.2 390.5 154.2C410.6 154.2 424.8 197.3 444.9 197.3C465.0 197.3 479.2 143.4 499.3 143.4" fill="none" stroke="#ff3a6e" stroke-width="1.700" stroke-linecap="round"/>
<path d="M64.1 241.0H501.3" stroke="#d9dadc" stroke-width="1"/>
<path d="M64.1 241.0v5" stroke="#e0e0e0" stroke-width="1"/><text x="64.1" y="261.9" font-size="10" text-anchor="middle" fill="#373d3f">14-May</text>
<path d="M118.5 241.0v5" stroke="#e0e0e0" stroke-width="1"/><text x="118.5" y="261.9" font-size="10" text-anchor="middle" fill="#373d3f">13-May</text>
<path d="M172.9 241.0v5" stroke="#e0e0e0" stroke-width="1"/><text x="172.9" y="261.9" font-size="10" text-anchor="middle" fill="#373d3f">12-May</text>
<path d="M227.3 241.0v5" stroke="#e0e0e0" stroke-width="1"/><text x="227.3" y="261.9" font-size="10" text-anchor="middle" fill="#373d3f">11-May</text>
<path d="M281.7 241.0v5" stroke="#e0e0e0" stroke-width="1"/><text x="281.7" y="261.9" font-size="10" text-anchor="middle" fill="#373d3f">10-May</text>
<path d="M336.1 241.0v5" stroke="#e0e0e0" stroke-width="1"/><text x="336.1" y="261.9" font-size="10" text-anchor="middle" fill="#373d3f">09-May</text>
<path d="M390.5 241.0v5" stroke="#e0e0e0" stroke-width="1"/><text x="390.5" y="261.9" font-size="10" text-anchor="middle" fill="#373d3f">08-May</text>
<path d="M444.9 241.0v5" stroke="#e0e0e0" stroke-width="1"/><text x="444.9" y="261.9" font-size="10" text-anchor="middle" fill="#373d3f">07-May</text>
<path d="M499.3 241.0v5" stroke="#e0e0e0" stroke-width="1"/><text x="499.3" y="261.9" font-size="10" text-anchor="middle" fill="#373d3f">06-May</text>
<text x="281.5" y="286.2" font-size="10" font-weight="700" text-anchor="middle" fill="#373d3f">Date</text>
</svg></div>
<!-- income & expense -->
<div class="card" style="left:237.5px;top:739.0px;width:771.700px;height:420px"><div class="bar" style="top:17px"></div><div class="t" style="left:21px;top:20.5px;font-size:14px;line-height:16px;color:#0c0d10;-webkit-text-stroke:0.41px #0c0d10;letter-spacing:-0.00px;">Income &amp; Expense</div><div class="t" style="right:21.2px;top:20.5px;font-size:14px;line-height:16px;color:#6c757d;-webkit-text-stroke:0.41px #6c757d;letter-spacing:0.07px;">Current Year - 2025</div><div class="hr" style="top:57px"></div><svg class="abs" style="left:0;top:0" width="771.700" height="200" viewBox="0 0 771.7 200" font-family="Liberation Sans, sans-serif"><defs><clipPath id="yc"><rect x="21" y="100" width="40" height="100"/></clipPath></defs>
<rect x="616.500" y="87" width="10" height="10" rx="2" fill="#3ec9d6"/><text x="629" y="96.600" font-size="10" fill="#373d3f">Income</text>
<rect x="678.500" y="87" width="10" height="10" rx="2" fill="#ff3a6e"/><text x="691" y="96.600" font-size="10" fill="#373d3f">Expense</text>
<path d="M68.5 123.0H742.5" stroke="#e3e4e6" stroke-width="1" stroke-dasharray="3.300 3.300"/><text x="37.5" y="123.9" font-size="9.200" text-anchor="end" fill="#373d3f" clip-path="url(#yc)">8000</text>
<path d="M68.5 142.0H742.5" stroke="#e3e4e6" stroke-width="1" stroke-dasharray="3.300 3.300"/><text x="37.5" y="142.9" font-size="9.200" text-anchor="end" fill="#373d3f" clip-path="url(#yc)">7000</text>
<path d="M68.5 160.8H742.5" stroke="#e3e4e6" stroke-width="1" stroke-dasharray="3.300 3.300"/><text x="37.5" y="161.7" font-size="9.200" text-anchor="end" fill="#373d3f" clip-path="url(#yc)">6000</text>
<rect x="132.6" y="126.0" width="19.3" height="80" fill="#5bd1dc" stroke="#3ec9d6" stroke-width="1"/><rect x="151.9" y="134.5" width="19.3" height="80" fill="#ff5a86" stroke="#ff3a6e" stroke-width="1"/>
<rect x="188.8" y="153.5" width="19.3" height="80" fill="#5bd1dc" stroke="#3ec9d6" stroke-width="1"/><rect x="208.1" y="157.5" width="19.3" height="80" fill="#ff5a86" stroke="#ff3a6e" stroke-width="1"/>
<rect x="301.1" y="128.0" width="19.3" height="80" fill="#5bd1dc" stroke="#3ec9d6" stroke-width="1"/><rect x="320.4" y="134.5" width="19.3" height="80" fill="#ff5a86" stroke="#ff3a6e" stroke-width="1"/>
<rect x="357.3" y="139.0" width="19.3" height="80" fill="#5bd1dc" stroke="#3ec9d6" stroke-width="1"/><rect x="376.6" y="151.5" width="19.3" height="80" fill="#ff5a86" stroke="#ff3a6e" stroke-width="1"/>
<rect x="413.5" y="135.0" width="19.3" height="80" fill="#5bd1dc" stroke="#3ec9d6" stroke-width="1"/><rect x="432.8" y="145.5" width="19.3" height="80" fill="#ff5a86" stroke="#ff3a6e" stroke-width="1"/>
<rect x="638.2" y="149.5" width="19.3" height="80" fill="#5bd1dc" stroke="#3ec9d6" stroke-width="1"/>
<rect x="694.3" y="137.0" width="19.3" height="80" fill="#5bd1dc" stroke="#3ec9d6" stroke-width="1"/><rect x="713.6" y="149.5" width="19.3" height="80" fill="#ff5a86" stroke="#ff3a6e" stroke-width="1"/>
</svg></div>
<!-- income by category -->
<div class="card" style="left:1029.2px;top:739.0px;width:545.800px;height:420px"><div class="bar" style="top:17px"></div><div class="t" style="left:21px;top:20.5px;font-size:14px;line-height:16px;color:#0c0d10;-webkit-text-stroke:0.41px #0c0d10;letter-spacing:0.08px;">Income By Category</div><div class="t" style="right:21.2px;top:20.5px;font-size:14px;line-height:16px;color:#6c757d;-webkit-text-stroke:0.41px #6c757d;letter-spacing:-0.14px;">Year - 2025</div><div class="hr" style="top:57.200px"></div><svg class="abs" style="left:0;top:0" width="545.800" height="200" viewBox="0 0 545.8 200" font-family="Liberation Sans, sans-serif">
<path d="M206.3 95.8A66.75 66.75 0 0 1 273.0 162.5v60" fill="none" stroke="#6fd943" stroke-width="17.500"/>
<path d="M206.3 95.8A66.75 66.75 0 0 0 139.5 162.5v60" fill="none" stroke="#1b28bd" stroke-width="17.500"/>
<path d="M206.3 85.8v20" stroke="#fff" stroke-width="1.400"/>
<circle cx="407.5" cy="108.8" r="4.600" fill="#6fd943"/><text x="415.0" y="113.7" font-size="10" fill="#373d3f">Maintenance Sales</text>
<circle cx="407.5" cy="128.5" r="4.600" fill="#1b28bd"/><text x="415.0" y="132.6" font-size="10" fill="#373d3f">Product Sales</text>
</svg></div>
</body>
</html>
